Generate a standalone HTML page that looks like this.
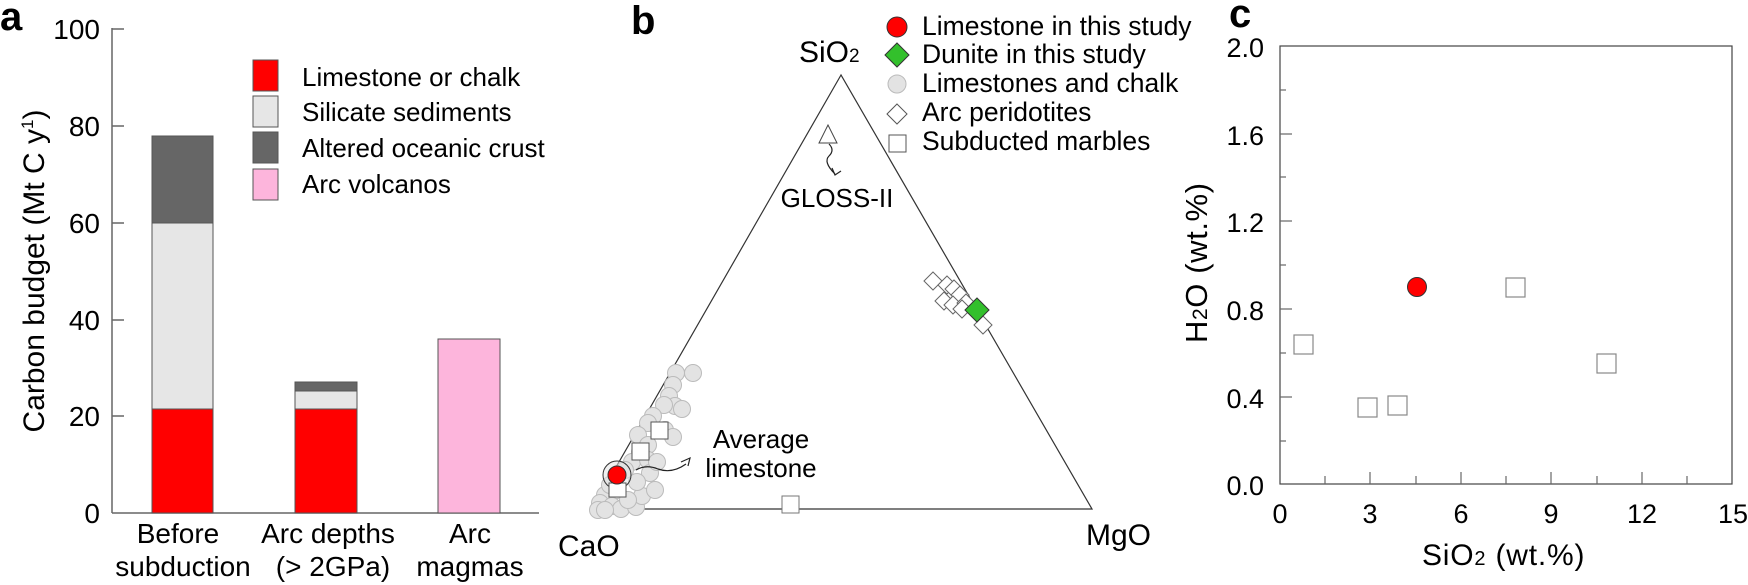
<!DOCTYPE html>
<html><head><meta charset="utf-8"><style>
html,body{margin:0;padding:0;background:#fff}
svg{display:block;font-family:"Liberation Sans",Arial,sans-serif}
</style></head><body>
<svg width="1748" height="585" viewBox="0 0 1748 585" xmlns="http://www.w3.org/2000/svg">
<!-- Panel a -->
<text x="0" y="30" font-size="40" font-weight="bold">a</text>
<g stroke="#666" stroke-width="1.5" fill="none">
<line x1="112" y1="28" x2="112" y2="513"/>
<line x1="112" y1="513" x2="539" y2="513"/>
<line x1="112" y1="29" x2="124" y2="29"/>
<line x1="112" y1="126" x2="124" y2="126"/>
<line x1="112" y1="223" x2="124" y2="223"/>
<line x1="112" y1="320" x2="124" y2="320"/>
<line x1="112" y1="416" x2="124" y2="416"/>
</g>
<g font-size="28" text-anchor="end">
<text x="100" y="39">100</text><text x="100" y="136">80</text><text x="100" y="233">60</text>
<text x="100" y="330">40</text><text x="100" y="426">20</text><text x="100" y="523">0</text>
</g>
<text transform="translate(44,271) rotate(-90)" font-size="30" text-anchor="middle">Carbon budget (Mt C y<tspan font-size="17" dy="-11">1</tspan><tspan dy="11">)</tspan></text>
<g stroke="#555" stroke-width="1">
<rect x="152" y="136" width="61" height="87" fill="#666"/>
<rect x="152" y="223" width="61" height="186" fill="#e6e6e6"/>
<rect x="152" y="409" width="61" height="104" fill="#f00"/>
<rect x="295" y="382" width="62" height="9" fill="#666"/>
<rect x="295" y="391" width="62" height="18" fill="#e6e6e6"/>
<rect x="295" y="409" width="62" height="104" fill="#f00"/>
<rect x="438" y="339" width="62" height="174" fill="#fdb5dc"/>
<rect x="253" y="60" width="25" height="31" fill="#f00"/>
<rect x="253" y="96" width="25" height="31" fill="#e6e6e6"/>
<rect x="253" y="132" width="25" height="31" fill="#666"/>
<rect x="253" y="169" width="25" height="31" fill="#fdb5dc"/>
</g>
<g font-size="26">
<text x="302" y="86">Limestone or chalk</text>
<text x="302" y="121">Silicate sediments</text>
<text x="302" y="157">Altered oceanic crust</text>
<text x="302" y="193">Arc volcanos</text>
</g>
<g font-size="28" text-anchor="middle">
<text x="178" y="543">Before</text><text x="183" y="576">subduction</text>
<text x="328" y="543">Arc depths</text><text x="333" y="576">(&gt; 2GPa)</text>
<text x="470" y="543">Arc</text><text x="470" y="576">magmas</text>
</g>
<!-- Panel b -->
<text x="631" y="34" font-size="40" font-weight="bold">b</text>
<polygon points="841,75 592,509 1092,509" fill="none" stroke="#333" stroke-width="1.2"/>
<text x="799" y="62" font-size="30">SiO<tspan font-size="19">2</tspan></text>
<text x="558" y="556" font-size="30">CaO</text>
<text x="1086" y="545" font-size="30">MgO</text>
<polygon points="828,125 819,143 837,143" fill="#fff" stroke="#444"/>
<path d="M829,144 q6,6 0,12 q-6,6 6,18" fill="none" stroke="#222" stroke-width="1.2"/>
<path d="M832,168 l3,7 l6,-4" fill="none" stroke="#222" stroke-width="1.2"/>
<text x="837" y="207" font-size="26" text-anchor="middle">GLOSS-II</text>
<g fill="#e3e3e3" stroke="#bbb" stroke-width="1">
<circle cx="676" cy="373" r="8.5"/><circle cx="693" cy="373" r="8.5"/><circle cx="673" cy="385" r="8.5"/>
<circle cx="669" cy="396" r="8.5"/><circle cx="675" cy="406" r="8.5"/><circle cx="682" cy="409" r="8.5"/>
<circle cx="664" cy="405" r="8.5"/><circle cx="653" cy="416" r="8.5"/><circle cx="648" cy="423" r="8.5"/>
<circle cx="638" cy="435" r="8.5"/><circle cx="665" cy="430" r="8.5"/><circle cx="648" cy="445" r="8.5"/>
<circle cx="640" cy="452" r="8.5"/><circle cx="632" cy="462" r="8.5"/><circle cx="648" cy="460" r="8.5"/>
<circle cx="673" cy="437" r="8.5"/><circle cx="650" cy="473" r="8.5"/><circle cx="625" cy="470" r="8.5"/>
<circle cx="617" cy="490" r="8.5"/><circle cx="605" cy="495" r="8.5"/><circle cx="600" cy="503" r="8.5"/>
<circle cx="598" cy="510" r="8.5"/><circle cx="612" cy="506" r="8.5"/><circle cx="621" cy="509" r="8.5"/>
<circle cx="636" cy="507" r="8.5"/><circle cx="642" cy="496" r="8.5"/><circle cx="655" cy="490" r="8.5"/>
<circle cx="637" cy="482" r="8.5"/><circle cx="610" cy="485" r="8.5"/><circle cx="628" cy="500" r="8.5"/>
<circle cx="657" cy="462" r="8.5"/><circle cx="605" cy="510" r="8.5"/>
</g>
<circle cx="617" cy="475" r="14" fill="#e3e3e3" fill-opacity="0.5" stroke="#333"/>
<rect x="609" y="483" width="17" height="14" fill="#fff" stroke="#555"/>
<rect x="651" y="422" width="17" height="17" fill="#fff" stroke="#555"/>
<rect x="632" y="443" width="17" height="17" fill="#fff" stroke="#555"/>
<rect x="782" y="496" width="17" height="17" fill="#fff" stroke="#777"/>
<circle cx="617" cy="475" r="9" fill="#f00" stroke="#333"/>
<path d="M636,470 q10,-6 22,-1 q14,5 28,-5" fill="none" stroke="#222" stroke-width="1.2"/>
<path d="M681,462 l9,-4 l-2,8" fill="none" stroke="#222" stroke-width="1.2"/>
<text x="761" y="448" font-size="26" text-anchor="middle">Average</text>
<text x="761" y="477" font-size="26" text-anchor="middle">limestone</text>
<g fill="#fff" stroke="#666" stroke-width="1">
<polygon points="933,272 942,281 933,290 924,281"/>
<polygon points="947,276 956,285 947,294 938,285"/>
<polygon points="954,280 963,289 954,298 945,289"/>
<polygon points="944,292 953,301 944,310 935,301"/>
<polygon points="960,286 969,295 960,304 951,295"/>
<polygon points="953,296 962,305 953,314 944,305"/>
<polygon points="966,294 975,303 966,312 957,303"/>
<polygon points="962,300 971,309 962,318 953,309"/>
<polygon points="983,316 992,325 983,334 974,325"/>
</g>
<polygon points="977,298 989,310 977,322 965,310" fill="#33c02c" stroke="#333"/>
<!-- legend b -->
<circle cx="897" cy="27" r="10" fill="#f00" stroke="#333"/>
<polygon points="897,43 909,55 897,67 885,55" fill="#33c02c" stroke="#333"/>
<circle cx="897" cy="84" r="9" fill="#e3e3e3" stroke="#bbb"/>
<polygon points="897,104 907,114 897,124 887,114" fill="#fff" stroke="#555"/>
<rect x="889" y="135" width="17" height="17" fill="#fff" stroke="#555"/>
<g font-size="26.5">
<text x="922" y="35">Limestone in this study</text>
<text x="922" y="63">Dunite in this study</text>
<text x="922" y="92">Limestones and chalk</text>
<text x="922" y="121">Arc peridotites</text>
<text x="922" y="150">Subducted marbles</text>
</g>
<!-- Panel c -->
<text x="1229" y="27" font-size="40" font-weight="bold">c</text>
<rect x="1280" y="46" width="452" height="438" fill="none" stroke="#444" stroke-width="1.2"/>
<g stroke="#666" stroke-width="1.2">
<line x1="1280" y1="90" x2="1286" y2="90"/><line x1="1280" y1="134" x2="1292" y2="134"/>
<line x1="1280" y1="177" x2="1286" y2="177"/><line x1="1280" y1="221" x2="1292" y2="221"/>
<line x1="1280" y1="265" x2="1286" y2="265"/><line x1="1280" y1="309" x2="1292" y2="309"/>
<line x1="1280" y1="353" x2="1286" y2="353"/><line x1="1280" y1="397" x2="1292" y2="397"/>
<line x1="1280" y1="441" x2="1286" y2="441"/>
<line x1="1325" y1="484" x2="1325" y2="476"/><line x1="1370" y1="484" x2="1370" y2="472"/>
<line x1="1416" y1="484" x2="1416" y2="476"/><line x1="1461" y1="484" x2="1461" y2="472"/>
<line x1="1506" y1="484" x2="1506" y2="476"/><line x1="1551" y1="484" x2="1551" y2="472"/>
<line x1="1597" y1="484" x2="1597" y2="476"/><line x1="1642" y1="484" x2="1642" y2="472"/>
<line x1="1687" y1="484" x2="1687" y2="476"/>
</g>
<g font-size="27" text-anchor="end">
<text x="1264" y="57">2.0</text><text x="1264" y="145">1.6</text><text x="1264" y="232">1.2</text>
<text x="1264" y="320">0.8</text><text x="1264" y="408">0.4</text><text x="1264" y="495">0.0</text>
</g>
<g font-size="27" text-anchor="middle">
<text x="1280" y="523">0</text><text x="1370" y="523">3</text><text x="1461" y="523">6</text>
<text x="1551" y="523">9</text><text x="1642" y="523">12</text><text x="1733" y="523">15</text>
</g>
<text x="1422" y="565" font-size="30" letter-spacing="0.8">SiO<tspan font-size="20">2</tspan> (wt.%)</text>
<text transform="translate(1207,343) rotate(-90)" font-size="31" letter-spacing="0.6">H<tspan font-size="21">2</tspan>O (wt.%)</text>
<g fill="#fff" stroke="#888" stroke-width="1.2">
<rect x="1294" y="335" width="19" height="19"/>
<rect x="1358" y="398" width="19" height="19"/>
<rect x="1388" y="396" width="19" height="19"/>
<rect x="1506" y="278" width="19" height="19"/>
<rect x="1597" y="354" width="19" height="19"/>
</g>
<circle cx="1417" cy="287" r="9.5" fill="#f00" stroke="#333"/>
</svg>
</body></html>
